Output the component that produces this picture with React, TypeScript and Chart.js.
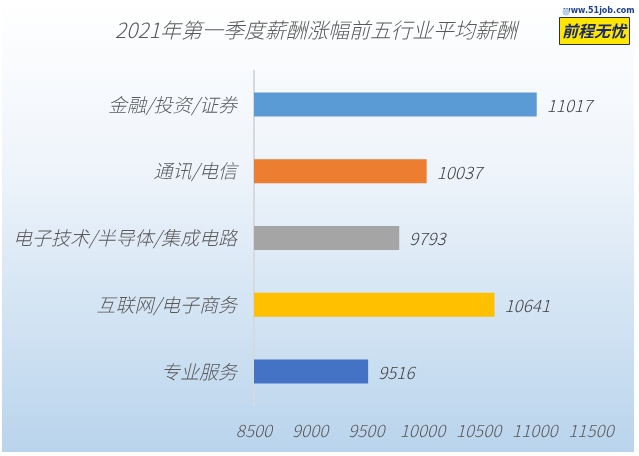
import { useEffect, useRef } from 'react';
import { Chart, registerables, Plugin } from 'chart.js';

Chart.register(...registerables);

const chartTitle = '2021年第一季度薪酬涨幅前五行业平均薪酬';
const categories = ['金融/投资/证券', '通讯/电信', '电子技术/半导体/集成电路', '互联网/电子商务', '专业服务'];
const salaries = [11017, 10037, 9793, 10641, 9516];
const barColors = ['#5b9bd5', '#ed7d31', '#a5a5a5', '#ffc000', '#4472c4'];
const xTicks = [8500, 9000, 9500, 10000, 10500, 11000, 11500];

const FONT = '"Microsoft YaHei", "Noto Sans CJK SC", "Noto Sans", sans-serif';

const backgroundPlugin: Plugin<'bar'> = {
  id: 'bgGradient',
  beforeDraw(chart) {
    const { ctx } = chart;
    const g = ctx.createLinearGradient(0, 0, 0, 452);
    g.addColorStop(0, '#ffffff');
    g.addColorStop(0.35, '#f0f5fb');
    g.addColorStop(1, '#b9d4ec');
    ctx.save();
    ctx.fillStyle = '#ffffff';
    ctx.fillRect(0, 0, chart.width, chart.height);
    ctx.fillStyle = g;
    ctx.fillRect(2, 0, 632, 452);
    ctx.restore();
  },
};

// title centred on the whole picture, not on the plot box
const titlePlugin: Plugin<'bar'> = {
  id: 'pageTitle',
  afterDraw(chart) {
    const { ctx } = chart;
    ctx.save();
    ctx.font = `italic 300 21px ${FONT}`;
    ctx.fillStyle = '#595959';
    ctx.textAlign = 'center';
    ctx.textBaseline = 'middle';
    ctx.fillText(chartTitle, 316, 30);
    ctx.restore();
  },
};

const valueLabelPlugin: Plugin<'bar'> = {
  id: 'valueLabels',
  afterDatasetsDraw(chart) {
    const { ctx } = chart;
    const meta = chart.getDatasetMeta(0);
    ctx.save();
    ctx.font = `italic 300 17px ${FONT}`;
    ctx.fillStyle = '#404040';
    ctx.textBaseline = 'middle';
    ctx.textAlign = 'left';
    meta.data.forEach((bar, i) => {
      ctx.fillText(String(salaries[i]), bar.x + 10, bar.y + 1);
    });
    ctx.restore();
  },
};

const logoPlugin: Plugin<'bar'> = {
  id: 'logo',
  afterDraw(chart) {
    const { ctx } = chart;
    ctx.save();
    // yellow badge
    ctx.fillStyle = '#ffe600';
    ctx.strokeStyle = '#1f2f6b';
    ctx.lineWidth = 1;
    ctx.beginPath();
    ctx.rect(559.5, 17.5, 70, 27);
    ctx.fill();
    ctx.stroke();
    ctx.fillStyle = '#1a2a6c';
    ctx.font = `italic bold 16px ${FONT}`;
    ctx.textAlign = 'center';
    ctx.textBaseline = 'middle';
    ctx.fillText('前程无忧', 594, 31);
    ctx.font = `bold 8px "DejaVu Sans", sans-serif`;
    ctx.fillStyle = '#1f3f8f';
    ctx.fillText('www.51job.com', 599, 11);
    // small cursor mark
    ctx.fillStyle = '#b7cde8';
    ctx.beginPath();
    ctx.arc(566, 12, 3.5, 0, Math.PI * 2);
    ctx.fill();
    ctx.restore();
  },
};

export default function App() {
  const canvasRef = useRef<HTMLCanvasElement>(null);
  const chartRef = useRef<Chart<'bar'>>();

  useEffect(() => {
    document.body.style.margin = '0';
    if (!canvasRef.current) return;
    chartRef.current?.destroy();

    chartRef.current = new Chart(canvasRef.current, {
      type: 'bar',
      data: {
        labels: categories,
        datasets: [
          {
            data: salaries,
            backgroundColor: barColors,
            categoryPercentage: 1,
            barPercentage: 0.36,
            base: 8500,
          },
        ],
      },
      options: {
        indexAxis: 'y',
        animation: false,
        responsive: false,
        devicePixelRatio: 1,
        layout: { padding: { top: 71, left: 8, right: 48, bottom: 11 } },
        plugins: {
          legend: { display: false },
          tooltip: { enabled: false },
          title: { display: false },
        },
        scales: {
          x: {
            min: 8500,
            max: 11500,
            afterBuildTicks: (scale) => {
              scale.ticks = xTicks.map((v) => ({ value: v }));
            },
            afterFit: (scale) => {
              scale.height = 40;
            },
            grid: { display: false },
            border: { display: false },
            ticks: {
              color: '#595959',
              padding: 7,
              maxRotation: 0,
              font: { family: FONT, size: 17, style: 'italic', weight: 300 },
              callback: (v) => String(v),
            },
          },
          y: {
            afterFit: (scale) => {
              scale.width = 246;
            },
            grid: { display: false },
            border: { display: true, color: '#d6d9dd', width: 2 },
            ticks: {
              color: '#595959',
              padding: 9,
              font: { family: FONT, size: 19, style: 'italic', weight: 300 },
            },
          },
        },
      },
      plugins: [backgroundPlugin, valueLabelPlugin, titlePlugin, logoPlugin],
    });

    return () => {
      chartRef.current?.destroy();
    };
  }, []);

  return <canvas ref={canvasRef} width={639} height={456} style={{ display: 'block' }} />;
}
